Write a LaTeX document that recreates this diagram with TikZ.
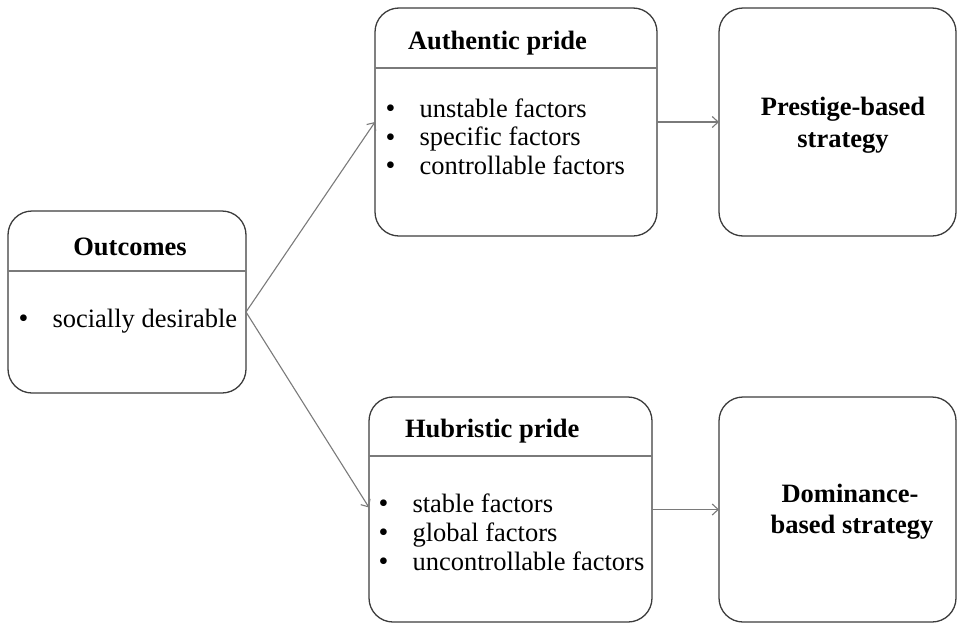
\documentclass[tikz,border=0pt]{standalone}
\usepackage{fontspec}
\setmainfont{Liberation Serif}
\usetikzlibrary{arrows.meta}
\definecolor{boxline}{HTML}{3C3C3C}
\definecolor{thinline}{HTML}{7A7A7A}
\newcommand{\bulletmark}{\makebox[35pt][l]{\hspace{1pt}\fontsize{28}{20}\selectfont\raisebox{-0.5pt}{•}}}
\tikzset{
  box/.style={draw=boxline, line width=1.3pt, rounded corners=24pt, inner sep=0pt, outer sep=0pt},
  divider/.style={draw=thinline, line width=1.1pt},
  conn/.style={draw=thinline, line width=1.1pt, -{Straight Barb[length=6pt,width=11pt]}},
  lst/.style={inner sep=0pt, outer sep=0pt, anchor=base west, align=left},
  ttl/.style={inner sep=0pt, outer sep=0pt, anchor=base west, font=\fontsize{26.5}{28.5}\selectfont\bfseries},
  ctr/.style={inner sep=0pt, outer sep=0pt, anchor=base, font=\fontsize{26.5}{28.5}\selectfont\bfseries},
}
\begin{document}
\begin{tikzpicture}[x=1pt,y=-1pt]
\useasboundingbox (0,0) rectangle (957,624);
% boxes
\node[box, minimum width=238pt, minimum height=182pt] (outc) at (127,302) {};
\node[box, minimum width=282pt, minimum height=228pt] (auth) at (516,122) {};
\node[box, minimum width=237pt, minimum height=228pt] (pres) at (837.5,122) {};
\node[box, minimum width=283pt, minimum height=225pt] (hub) at (510.5,509.5) {};
\node[box, minimum width=237pt, minimum height=225pt] (dom) at (837.5,509.5) {};
% dividers
\draw[divider] (outc.west |- 0,271) -- (outc.east |- 0,271);
\draw[divider] (auth.west |- 0,68) -- (auth.east |- 0,68);
\draw[divider] (hub.west |- 0,456) -- (hub.east |- 0,456);
% Outcomes
\node[ctr] (outt) at (130,255) {Outcomes};
\node[lst, font=\fontsize{26.5}{28.5}\selectfont] (olist) at (17.5,327) {\bulletmark socially desirable};
% Authentic pride (base anchor = last line's baseline)
\node[ttl] (autht) at (408,49) {Authentic pride};
\node[lst, font=\fontsize{26.5}{28.5}\selectfont] (alist) at (384.5,174)
  {\bulletmark unstable factors\\ \bulletmark specific factors\\ \bulletmark controllable factors};
% Hubristic pride
\node[ttl] (hubt) at (405,437) {Hubristic pride};
\node[lst, font=\fontsize{26.5}{29}\selectfont] (hlist) at (377.5,570)
  {\bulletmark stable factors\\ \bulletmark global factors\\ \bulletmark uncontrollable factors};
% strategies
\node[ctr] (pt1) at (843,115) {Prestige-based};
\node[ctr] (pt2) at (843,147) {strategy};
\node[ctr] (dt1) at (850,502) {Dominance-};
\node[ctr] (dt2) at (852,533) {based strategy};
% connectors
\coordinate (ostart) at ([yshift=-10pt]outc.east);
\draw[conn] (ostart) -- (auth.west);
\draw[conn] (ostart) -- ([yshift=2pt]hub.west);
\draw[conn] (auth.east) -- (pres.west);
\draw[conn] (hub.east) -- (dom.west);
\end{tikzpicture}
\end{document}
